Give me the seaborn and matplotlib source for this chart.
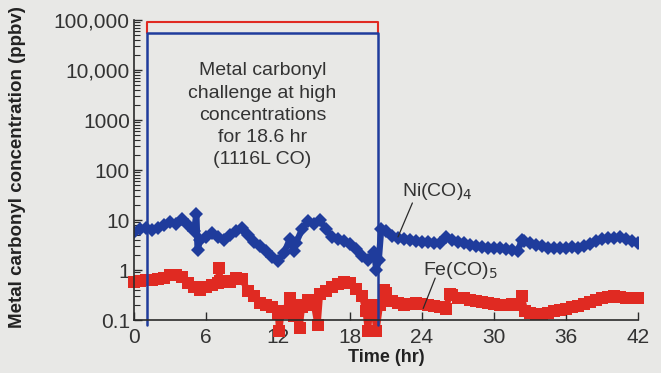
import numpy as np
import pandas as pd
import seaborn as sns
import matplotlib.pyplot as plt
from matplotlib.ticker import LogLocator, FixedLocator, NullFormatter

# Ni(CO)4 readings (ppbv) vs time (hr)
ni_time = [0, 0.5, 1.0, 1.5, 2.0, 2.5, 3.0, 3.5, 4.0, 4.5, 5.0, 5.2, 5.3, 5.5,
           6.0, 6.5, 7.0, 7.5, 8.0, 8.5, 9.0, 9.5, 10.0, 10.5, 11.0, 11.5, 12.0,
           12.5, 13.0, 13.3, 13.5, 14.0, 14.5, 15.0, 15.5, 16.0, 16.5, 17.0, 17.5,
           18.0, 18.5, 19.0, 19.5, 20.0, 20.2, 20.4, 20.6, 21.0, 21.5, 22.0, 22.5,
           23.0, 23.5, 24.0, 24.5, 25.0, 25.5, 26.0, 26.5, 27.0, 27.5, 28.0, 28.5,
           29.0, 29.5, 30.0, 30.5, 31.0, 31.5, 32.0, 32.3, 32.5, 33.0, 33.5, 34.0,
           34.5, 35.0, 35.5, 36.0, 36.5, 37.0, 37.5, 38.0, 38.5, 39.0, 39.5, 40.0,
           40.5, 41.0, 41.5, 42.0]
ni_ppbv = [5.8, 6.5, 6.9, 6.3, 7.0, 8.0, 9.0, 8.5, 10.5, 8.0, 6.0, 13.0, 2.5, 4.0,
           4.6, 5.5, 4.5, 4.0, 5.0, 6.0, 6.8, 5.0, 3.6, 3.0, 2.4, 1.8, 1.5,
           2.2, 4.2, 2.4, 3.5, 6.5, 9.5, 8.5, 10.0, 6.5, 4.6, 4.2, 3.8,
           3.3, 2.6, 1.9, 1.6, 2.3, 1.0, 1.6, 6.5, 6.0, 4.8, 4.4, 4.2,
           4.0, 3.8, 3.7, 3.6, 3.4, 3.5, 4.5, 4.0, 3.7, 3.4, 3.2, 3.0,
           2.9, 2.8, 2.8, 2.7, 2.6, 2.5, 2.4, 4.0, 3.8, 3.5, 3.2, 3.0,
           2.8, 2.7, 2.75, 2.8, 2.9, 2.8, 3.0, 3.3, 3.8, 4.2, 4.3, 4.4,
           4.5, 4.2, 3.8, 3.4]

# Fe(CO)5 readings (ppbv) vs time (hr)
fe_time = [0, 0.5, 1.0, 1.5, 2.0, 2.5, 3.0, 3.5, 4.0, 4.5, 5.0, 5.5, 6.0, 6.5,
           7.0, 7.1, 7.2, 7.5, 8.0, 8.5, 9.0, 9.5, 10.0, 10.5, 11.0, 11.5, 12.0,
           12.1, 12.3, 12.5, 13.0, 13.3, 13.5, 13.8, 14.0, 14.5, 15.0, 15.3, 15.5,
           16.0, 16.5, 17.0, 17.5, 18.0, 18.5, 19.0, 19.3, 19.5, 19.7, 20.0, 20.2,
           20.5, 20.8, 21.0, 21.5, 22.0, 22.5, 23.0, 23.5, 24.0, 24.5, 25.0, 25.5,
           26.0, 26.3, 26.5, 27.0, 27.5, 28.0, 28.5, 29.0, 29.5, 30.0, 30.5, 31.0,
           31.5, 32.0, 32.3, 32.6, 33.0, 33.5, 34.0, 34.5, 35.0, 35.5, 36.0, 36.5,
           37.0, 37.5, 38.0, 38.5, 39.0, 39.5, 40.0, 40.5, 41.0, 41.5, 42.0]
fe_ppbv = [0.58, 0.6, 0.63, 0.62, 0.66, 0.7, 0.78, 0.8, 0.72, 0.55, 0.45, 0.4, 0.45, 0.5,
           0.55, 1.1, 0.6, 0.6, 0.58, 0.7, 0.65, 0.38, 0.3, 0.22, 0.2, 0.18, 0.13,
           0.06, 0.15, 0.14, 0.28, 0.12, 0.2, 0.07, 0.18, 0.25, 0.2, 0.08, 0.33,
           0.38, 0.46, 0.52, 0.58, 0.55, 0.42, 0.3, 0.15, 0.06, 0.2, 0.15, 0.06,
           0.2, 0.4, 0.35, 0.24, 0.22, 0.2, 0.21, 0.22, 0.21, 0.2, 0.19, 0.18,
           0.17, 0.33, 0.31, 0.28, 0.27, 0.25, 0.24, 0.23, 0.22, 0.21, 0.2, 0.2,
           0.21, 0.2, 0.3, 0.15, 0.14, 0.13, 0.13, 0.14, 0.15, 0.16, 0.17, 0.18,
           0.19, 0.21, 0.23, 0.25, 0.27, 0.29, 0.3, 0.29, 0.28, 0.27, 0.27]

# challenge window
challenge_start = 1.1
challenge_end = 20.3
red_top = 90000
blue_top = 55000

x_ticks = [0, 6, 12, 18, 24, 30, 36, 42]
y_ticks = [0.1, 1, 10, 100, 1000, 10000, 100000]
y_labels = ["0.1", "1", "10", "100", "1000", "10,000", "100,000"]

blue = "#1f3c9c"
red = "#e02a22"
bg = "#e8e8e6"
ink = "#2a2a2a"

sns.set_style("ticks")
plt.rcParams['font.family'] = ['Liberation Sans', 'DejaVu Sans']

fig = plt.figure(figsize=(6.61, 3.73), dpi=100, facecolor=bg)
ax = fig.add_axes([0.2027, 0.142, 0.7625, 0.804])
ax.set_facecolor(bg)

ni = pd.DataFrame({"t": ni_time, "v": ni_ppbv})
fe = pd.DataFrame({"t": fe_time, "v": fe_ppbv})

sns.lineplot(data=fe, x="t", y="v", ax=ax, color=red, marker="s", markersize=8.5,
             markeredgewidth=0, linewidth=4.5)
ax.lines[-1].set_clip_on(False)
sns.lineplot(data=ni, x="t", y="v", ax=ax, color=blue, marker="D", markersize=7.5,
             markeredgewidth=0, linewidth=4.5)

# challenge box
ax.plot([challenge_start, challenge_start, challenge_end, challenge_end],
        [blue_top, red_top, red_top, blue_top], color=red, lw=1.5)
ax.plot([challenge_start, challenge_start, challenge_end, challenge_end],
        [0.08, blue_top, blue_top, 0.08], color=blue, lw=1.8, clip_on=False)

ax.set_yscale("log")
ax.set_xlim(0, 42)
ax.set_ylim(0.1, 100000)
ax.xaxis.set_major_locator(FixedLocator(x_ticks))
ax.yaxis.set_major_locator(FixedLocator(y_ticks))
ax.set_yticklabels(y_labels)
ax.yaxis.set_minor_locator(LogLocator(base=10, subs=np.arange(2, 10)))
ax.yaxis.set_minor_formatter(NullFormatter())
ax.tick_params(axis="both", which="major", direction="in", length=6, width=1,
               labelsize=15, color=ink, labelcolor="#333333")
ax.tick_params(axis="x", pad=6)
ax.tick_params(axis="y", pad=3)
ax.tick_params(axis="y", which="minor", direction="in", length=4, width=0.8, color=ink)
sns.despine(ax=ax)
for s in ["left", "bottom"]:
    ax.spines[s].set_color(ink)
    ax.spines[s].set_linewidth(1.2)

ax.set_xlabel("Time (hr)", fontsize=13, fontweight="bold", color="#222222", labelpad=1)
ax.set_ylabel("Metal carbonyl concentration (ppbv)", fontsize=13.5, fontweight="bold",
              color="#222222")
ax.yaxis.set_label_coords(-0.214, 0.51)

ax.text(10.7, 1250, "Metal carbonyl\nchallenge at high\nconcentrations\nfor 18.6 hr\n(1116L CO)",
        ha="center", va="center", fontsize=14, color="#333333", linespacing=1.4)

ax.text(25.3, 38, "Ni(CO)$_4$", ha="center", va="center", fontsize=14, color="#333333")
ax.plot([23.2, 22.0], [22, 4.6], color=ink, lw=0.9)
ax.text(27.2, 1.0, "Fe(CO)$_5$", ha="center", va="center", fontsize=14, color="#333333")
ax.plot([25.1, 24.1], [0.69, 0.17], color=ink, lw=0.9)

fig.savefig("out.png", dpi=100, facecolor=bg)
